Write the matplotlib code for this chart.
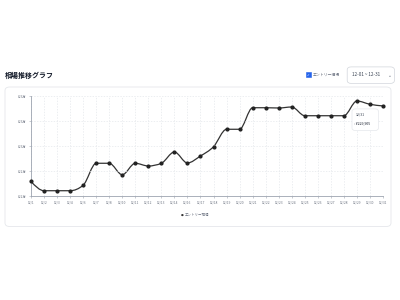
import numpy as np
import matplotlib
matplotlib.use("Agg")
import matplotlib.pyplot as plt
from matplotlib.path import Path
from matplotlib.patches import PathPatch, FancyBboxPatch, Rectangle
from matplotlib.ticker import FuncFormatter

plt.rcParams['font.family'] = ['Noto Sans CJK JP', 'DejaVu Sans']

# data
dates = ['12/1', '12/2', '12/3', '12/4', '12/6', '12/7', '12/8', '12/10',
         '12/11', '12/12', '12/13', '12/14', '12/16', '12/17', '12/18',
         '12/19', '12/20', '12/21', '12/22', '12/23', '12/24', '12/25',
         '12/26', '12/27', '12/28', '12/29', '12/30', '12/31']
prices = [221600, 220580, 220580, 220580, 221180, 223600, 223600, 222340,
          223600, 223300, 223600, 224840, 223630, 224400, 225420,
          227340, 227340, 229710, 229710, 229680, 229790, 228830,
          228830, 228830, 228830, 230450, 230090, 229905]
y_ticks = [220000, 222750, 225500, 228250, 231000]
series_name = 'エントリー相場'
title = '相場推移グラフ'
range_text = '12-01 ~ 12-31'


def monotone_path(xs, ys):
    # d3 style monotoneX curve as bezier segments
    xs = np.asarray(xs, float)
    ys = np.asarray(ys, float)
    n = len(xs)
    h = np.diff(xs)
    s = np.diff(ys) / h
    m = np.zeros(n)
    for i in range(1, n - 1):
        p = (s[i - 1] * h[i] + s[i] * h[i - 1]) / (h[i - 1] + h[i])
        m[i] = (np.sign(s[i - 1]) + np.sign(s[i])) * min(abs(s[i - 1]), abs(s[i]), 0.5 * abs(p))
    m[0] = (3 * s[0] - m[1]) / 2
    m[-1] = (3 * s[-1] - m[-2]) / 2
    verts = [(xs[0], ys[0])]
    codes = [Path.MOVETO]
    for i in range(n - 1):
        d = h[i] / 3
        verts += [(xs[i] + d, ys[i] + m[i] * d),
                  (xs[i + 1] - d, ys[i + 1] - m[i + 1] * d),
                  (xs[i + 1], ys[i + 1])]
        codes += [Path.CURVE4] * 3
    return Path(verts, codes)


fig = plt.figure(figsize=(4, 3), dpi=100)
fig.patch.set_facecolor('white')

# card
card = FancyBboxPatch((0.0125, 0.245), 0.965, 0.465,
                      boxstyle="round,pad=0,rounding_size=0.012",
                      transform=fig.transFigure, facecolor='white',
                      edgecolor='#e5e7eb', linewidth=0.6, zorder=-1)
fig.patches.append(card)

fig.text(0.0125, 0.75, title, fontsize=5, fontweight='bold', color='#111827',
         va='center', ha='left')

# checkbox + label
fig.patches.append(Rectangle((0.765, 0.744), 0.012, 0.016, transform=fig.transFigure,
                             facecolor='#2563eb', edgecolor='#2563eb', linewidth=0.4))
fig.text(0.771, 0.752, '✓', fontsize=2.5, color='white', ha='center', va='center',
         family=['DejaVu Sans'], zorder=3)
fig.text(0.782, 0.752, series_name, fontsize=2.8, color='#6b7280', va='center', ha='left')

# range dropdown
drop = FancyBboxPatch((0.868, 0.722), 0.118, 0.055,
                      boxstyle="round,pad=0,rounding_size=0.01",
                      transform=fig.transFigure, facecolor='white',
                      edgecolor='#d1d5db', linewidth=0.5)
fig.patches.append(drop)
fig.text(0.88, 0.750, range_text, fontsize=3.3, color='#374151', va='center', ha='left')
fig.text(0.972, 0.748, '⌄', fontsize=3.3, color='#6b7280', va='center', ha='center',
         family=['DejaVu Sans'])

ax = fig.add_axes([0.0775, 0.3467, 0.88, 0.3333])
ax.set_facecolor('none')
x = np.arange(len(dates))
ax.add_patch(PathPatch(monotone_path(x, prices), facecolor='none',
                       edgecolor='#333333', linewidth=0.9, clip_on=False))
ax.plot(x, prices, 'o', color='#222222', markersize=2.0, clip_on=False, zorder=3)

ax.set_xlim(0, len(dates) - 1)
ax.set_ylim(y_ticks[0], y_ticks[-1])
ax.set_xticks(x)
ax.set_xticklabels(dates)
ax.set_yticks(y_ticks)
ax.yaxis.set_major_formatter(FuncFormatter(lambda v, p: '¥%d万' % round(v / 10000)))
ax.tick_params(labelsize=2.3, colors='#9ca3af', length=1.5, width=0.4, pad=1.5)
ax.tick_params(labelcolor='#6b7280')
ax.grid(True, linestyle=(0, (2, 2)), color='#e5e7eb', linewidth=0.5)
for side in ['top', 'right']:
    ax.spines[side].set_visible(False)
for side in ['left', 'bottom']:
    ax.spines[side].set_color('#9ca3af')
    ax.spines[side].set_linewidth(0.6)

# tooltip
tip = FancyBboxPatch((0.88, 0.565), 0.066, 0.072,
                     boxstyle="round,pad=0,rounding_size=0.008",
                     transform=fig.transFigure, facecolor='white',
                     edgecolor='#e5e7eb', linewidth=0.5, zorder=5)
fig.patches.append(tip)
fig.text(0.888, 0.617, dates[-1], fontsize=2.5, color='#374151', va='center', zorder=6)
fig.text(0.885, 0.588, ': ¥{:,}'.format(prices[-1]), fontsize=2.5, color='#111827',
         va='center', zorder=6)

# legend
fig.text(0.455, 0.285, '●', fontsize=2.3, color='#333333', va='center', ha='center',
         family=['DejaVu Sans'])
fig.text(0.463, 0.285, series_name, fontsize=2.5, color='#6b7280', va='center', ha='left')

fig.savefig('out.png', dpi=100, facecolor='white')
